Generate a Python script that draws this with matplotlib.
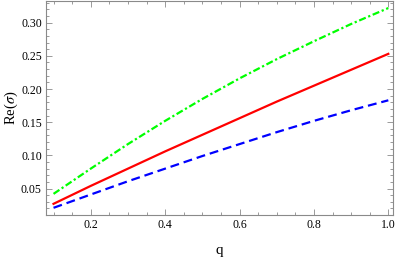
import matplotlib
matplotlib.use("Agg")
import matplotlib.pyplot as plt
from matplotlib.ticker import MultipleLocator, FormatStrFormatter

# --- data ---
q = [0.1, 0.2, 0.3, 0.4, 0.5, 0.6, 0.7, 0.8, 0.9, 1.0]
re_green = [0.042, 0.080, 0.117, 0.152, 0.185, 0.216, 0.245, 0.272, 0.298, 0.322]
re_red = [0.027, 0.054, 0.080, 0.106, 0.131, 0.156, 0.181, 0.205, 0.229, 0.253]
re_blue = [0.021, 0.041, 0.061, 0.080, 0.099, 0.117, 0.135, 0.152, 0.168, 0.183]

plt.rcParams['font.family'] = ['Liberation Serif', 'DejaVu Serif']
plt.rcParams['mathtext.fontset'] = 'stix'

fig = plt.figure(figsize=(3.95, 2.57), dpi=100)
ax = fig.add_axes([0.1165, 0.163, 0.8792, 0.833])

ax.plot(q, re_green, color=(0, 1, 0), lw=1.6, linestyle=(0, (3.2, 1.2, 1.0, 1.2)))
ax.plot(q, re_red, color=(1, 0, 0), lw=1.6)
ax.plot(q, re_blue, color=(0, 0, 1), lw=1.6, linestyle=(0, (4, 2.2)))

ax.set_xlim(0.0798, 1.0134)
ax.set_ylim(0.010, 0.3326)

ax.xaxis.set_major_locator(MultipleLocator(0.2))
ax.xaxis.set_minor_locator(MultipleLocator(0.05))
ax.yaxis.set_major_locator(MultipleLocator(0.05))
ax.yaxis.set_minor_locator(MultipleLocator(0.01))
ax.xaxis.set_major_formatter(FormatStrFormatter('%.1f'))
ax.yaxis.set_major_formatter(FormatStrFormatter('%.2f'))

frame_col = '#8a8a8a'
for s in ax.spines.values():
    s.set_color(frame_col)
    s.set_linewidth(0.8)
ax.tick_params(which='both', direction='in', top=True, right=True,
               color=frame_col, width=0.6, labelsize=8.5, pad=3)
ax.tick_params(which='major', length=4)
ax.tick_params(which='minor', length=2)

ax.set_xlabel('q', fontsize=11, labelpad=9)
ax.set_ylabel(r'Re($\sigma$)', fontsize=10.5, labelpad=1)

fig.savefig('out.png', dpi=100)
